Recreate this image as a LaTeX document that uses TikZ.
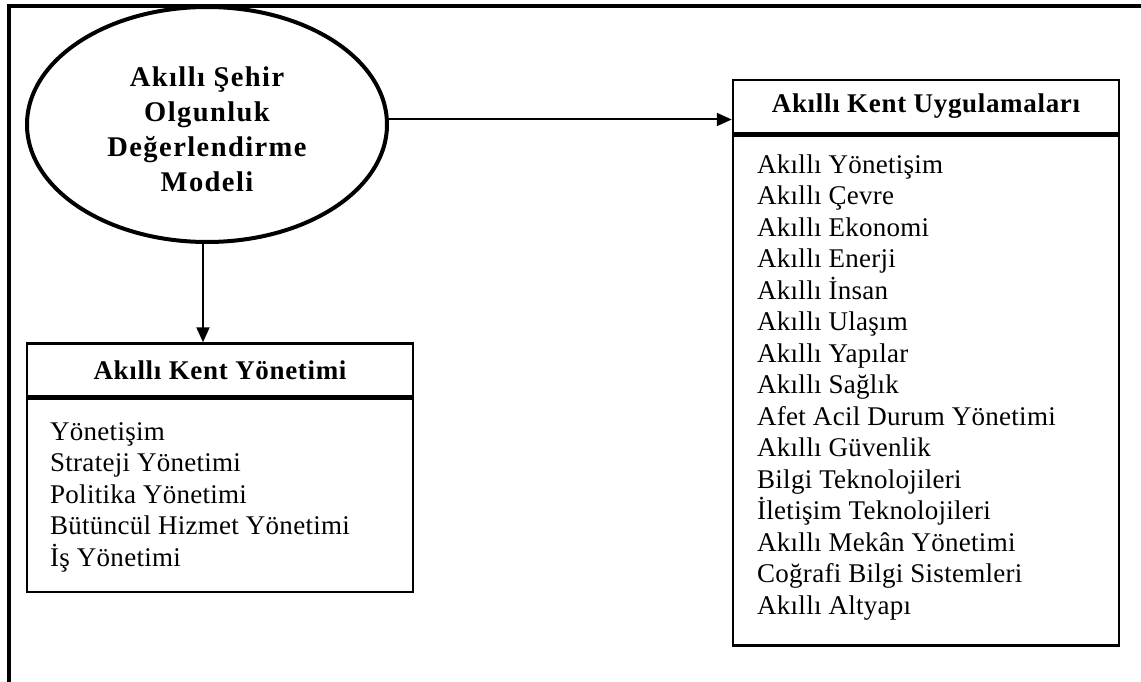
\documentclass[tikz,border=0pt]{standalone}
\usepackage{fontspec}
\setmainfont{Liberation Serif}
\usetikzlibrary{arrows.meta,shapes.geometric}
\begin{document}
\begin{tikzpicture}[x=1pt,y=-1pt,
  headbox/.style={draw, line width=2.5pt, minimum width=386pt, minimum height=53pt,
    inner sep=0pt, font=\fontsize{27}{30}\selectfont\bfseries\addfontfeature{LetterSpace=2.5}},
  bodybox/.style={draw, line width=2.5pt, minimum width=386pt, inner sep=0pt, anchor=north},
  listtext/.style={anchor=base west, align=left, inner sep=0pt,
    font=\fontsize{27}{31.5}\selectfont\addfontfeature{LetterSpace=1}},
  arr/.style={line width=2pt, -{Triangle[length=15pt,width=13pt]}},
]
\useasboundingbox (0,0) rectangle (1141,682);
% outer frame: top and left edges only
\draw[line width=3.5pt] (1141,6) -- (9,6) -- (9,682);

% central model
\node[ellipse, draw, line width=4pt, minimum width=360pt, minimum height=235pt,
  inner sep=0pt] (ell) at (207,124.5) {};
\node[align=center, inner sep=0pt,
  font=\fontsize{28.5}{35}\selectfont\bfseries\addfontfeature{LetterSpace=5}]
  (elltext) at ([yshift=-5pt]ell.center) {Akıllı Şehir\\Olgunluk\\Değerlendirme\\Modeli};

% applications box
\node[headbox] (rhead) at (926,106.5) {Akıllı Kent Uygulamaları};
\node[bodybox, minimum height=510pt] (rbody) at (rhead.south) {};
\node[listtext] (rlist) at (757,614) {Akıllı Yönetişim\\Akıllı Çevre\\Akıllı Ekonomi\\Akıllı Enerji\\Akıllı İnsan\\Akıllı Ulaşım\\Akıllı Yapılar\\Akıllı Sağlık\\Afet Acil Durum Yönetimi\\Akıllı Güvenlik\\Bilgi Teknolojileri\\İletişim Teknolojileri\\Akıllı Mekân Yönetimi\\Coğrafi Bilgi Sistemleri\\Akıllı Altyapı};

% management box
\node[headbox] (lhead) at (220,370) {Akıllı Kent Yönetimi};
\node[bodybox, minimum height=193pt] (lbody) at (lhead.south) {};
\node[listtext] (llist) at (50,566) {Yönetişim\\Strateji Yönetimi\\Politika Yönetimi\\Bütüncül Hizmet Yönetimi\\İş Yönetimi};

% connectors
\draw[arr] ([yshift=5pt]ell.east) -- ([yshift=5pt]ell.east -| rhead.west);
\draw[arr] ([xshift=-4pt]ell.south) -- ([xshift=-4pt]ell.south |- lhead.north);
\end{tikzpicture}
\end{document}
